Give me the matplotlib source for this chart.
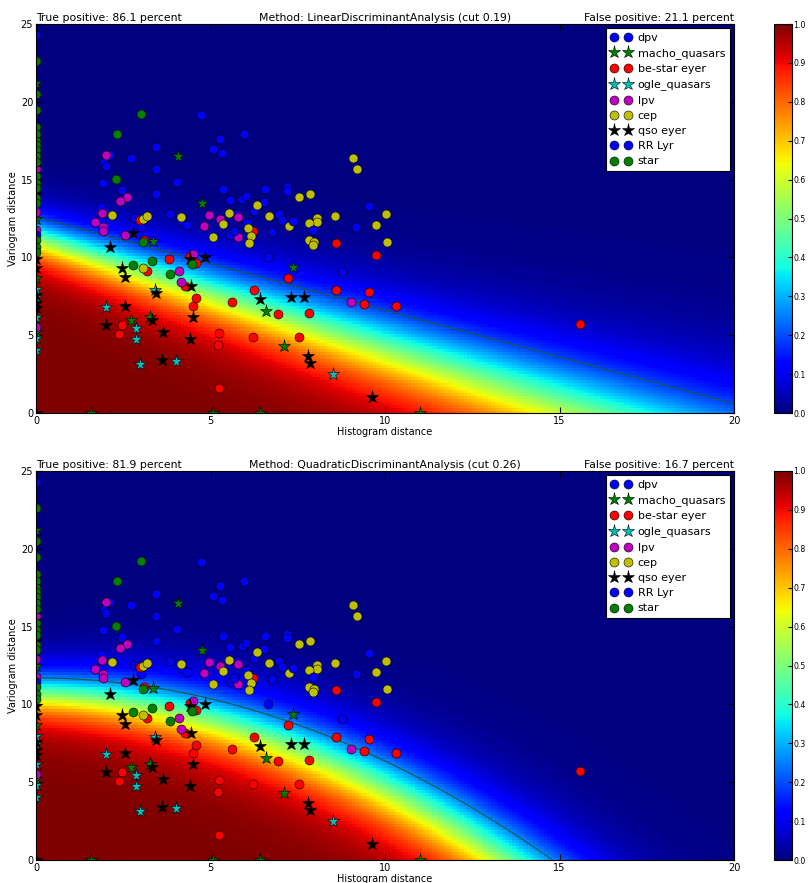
import numpy as np
import matplotlib
matplotlib.use('Agg')
import matplotlib.pyplot as plt

# ---------------- data ----------------
dpv_x = [4.74, 5.97, 5.26, 3.43, 5.08, 5.34, 2.11, 2.71, 1.94, 2.01, 3.43, 1.93, 4.05, 2.46,
         5.36, 6.55, 3.43, 5.57, 5.89, 6.01, 6.53, 6.95, 1.85, 1.85, 2.80, 2.96, 3.83, 4.16,
         4.33, 5.77, 6.26, 1.86, 3.02, 5.55, 6.05, 0.0]
dpv_y = [19.15, 17.95, 17.6, 17.1, 16.97, 16.7, 16.6, 16.37, 16.1, 15.9, 15.66, 14.8, 14.85, 14.3,
         14.4, 14.4, 14.05, 13.7, 13.77, 13.96, 13.56, 12.83, 13.26, 12.68, 12.55, 12.55, 12.77, 12.36,
         12.08, 12.81, 13.0, 12.34, 11.93, 11.44, 12.19, 24.3]
macho_x = [4.07, 4.75, 3.36, 7.37, 6.59, 2.71, 3.28, 7.11, 1.58, 5.06, 6.41, 11.0, 0.0, 0.0, 0.0, 0.0]
macho_y = [16.5, 13.47, 11.05, 9.4, 6.54, 5.96, 6.15, 4.33, 0.0, 0.0, 0.0, 0.0, 21.2, 12.5, 8.66, 5.23]
bestar_x = [2.99, 6.21, 3.10, 3.82, 4.42, 4.58, 3.17, 4.26, 4.59, 4.51, 5.61, 6.26, 6.93, 2.46, 2.38,
            5.25, 5.21, 6.23, 5.25, 8.61, 9.74, 7.23, 8.61, 9.53, 9.41, 10.31, 7.82, 7.54, 15.6]
bestar_y = [12.4, 11.7, 11.1, 9.9, 10.1, 9.62, 9.15, 8.18, 7.41, 6.86, 7.11, 7.9, 6.38, 5.63, 5.06,
            5.12, 4.37, 4.88, 1.59, 10.93, 10.13, 8.68, 7.9, 7.8, 7.03, 6.86, 6.43, 4.88, 5.7]
ogle_x = [3.40, 2.01, 2.86, 2.87, 2.99, 4.01, 8.52, 0.0, 0.0, 0.0, 0.0, 0.0]
ogle_y = [7.89, 6.79, 5.44, 4.74, 3.17, 3.34, 2.51, 8.0, 7.43, 6.19, 4.8, 4.05]
lpv_x = [2.01, 2.61, 2.40, 1.88, 4.95, 5.28, 5.80, 1.70, 1.93, 1.93, 4.80, 5.78, 2.56, 4.51, 4.10,
         4.15, 9.04, 0.0, 0.0, 0.0, 0.0]
lpv_y = [16.6, 13.9, 13.65, 12.85, 12.7, 12.49, 12.62, 12.25, 11.95, 11.7, 12.0, 11.33, 11.44, 10.2,
         9.13, 8.42, 7.11, 15.7, 12.9, 11.76, 5.55]
cep_x = [6.33, 2.18, 3.08, 3.17, 4.15, 5.52, 5.36, 6.69, 6.08, 6.16, 5.06, 6.09, 3.07, 9.09, 9.20,
         7.54, 7.84, 10.02, 8.58, 8.05, 8.05, 7.82, 7.24, 9.73, 7.81, 7.97, 7.93, 10.07]
cep_y = [13.39, 12.7, 12.5, 12.64, 12.58, 12.85, 12.17, 12.68, 11.9, 11.38, 11.33, 10.9, 9.32, 16.39,
         15.68, 13.9, 14.07, 12.81, 12.68, 12.53, 12.25, 12.21, 12.04, 12.06, 11.14, 11.01, 10.8, 10.97]
qso_x = [2.78, 2.11, 4.83, 4.40, 2.45, 2.55, 4.45, 3.45, 6.41, 2.55, 4.51, 3.32, 2.00, 3.64, 4.41,
         3.60, 7.31, 7.68, 7.80, 7.84, 9.63, 0.0, 0.0, 0.0, 0.0, 0.0, 0.0, 0.0]
qso_y = [11.59, 10.69, 10.0, 9.92, 9.34, 8.72, 8.18, 7.69, 7.33, 6.86, 6.15, 6.0, 5.66, 5.23, 4.78,
         3.43, 7.47, 7.47, 3.68, 3.23, 1.05, 14.1, 9.87, 9.3, 7.58, 7.05, 6.73, 0.0]
rrlyr_x = [6.76, 6.64, 7.18, 7.19, 9.55, 6.96, 7.04, 7.36, 9.18, 7.94, 5.67, 8.78, 0.0]
rrlyr_y = [11.61, 10.03, 14.55, 14.27, 13.28, 12.81, 12.4, 12.36, 11.97, 11.76, 11.7, 9.06, 11.44]
star_x = [3.02, 2.31, 2.30, 3.08, 4.46, 2.79, 3.33, 3.83] + [0.0] * 18
star_y = [19.2, 17.93, 15.04, 10.97, 9.58, 9.53, 9.77, 8.91,
          22.6, 20.5, 19.5, 18.4, 17.9, 17.5, 17.2, 16.9, 16.5, 16.15, 15.2, 14.76, 14.44,
          13.8, 13.5, 11.1, 10.7, 10.37]

series = [
    ("dpv", dpv_x, dpv_y, 'o', 'b'),
    ("macho_quasars", macho_x, macho_y, '*', 'g'),
    ("be-star eyer", bestar_x, bestar_y, 'o', 'r'),
    ("ogle_quasars", ogle_x, ogle_y, '*', 'c'),
    ("lpv", lpv_x, lpv_y, 'o', 'm'),
    ("cep", cep_x, cep_y, 'o', 'y'),
    ("qso eyer", qso_x, qso_y, '*', 'k'),
    ("RR Lyr", rrlyr_x, rrlyr_y, 'o', 'b'),
    ("star", star_x, star_y, 'o', 'g'),
]

panels = [
    dict(method="LinearDiscriminantAnalysis", cut=0.19, tp=86.1, fp=21.1),
    dict(method="QuadraticDiscriminantAnalysis", cut=0.26, tp=81.9, fp=16.7),
]

# classifier decision-surface parameters
lda_intercept, lda_slope, lda_k0, lda_c = 12.6, 0.6, 1.09, 0.079
qda_intercept, qda_xzero, qda_k0, qda_c = 11.7, 14.8, 1.05, 0.07

colors = {'b': (0, 0, 1), 'g': (0, 0.5, 0), 'r': (1, 0, 0), 'c': (0, 0.75, 0.75),
          'm': (0.75, 0, 0.75), 'y': (0.75, 0.75, 0), 'k': (0, 0, 0)}


def logit(p):
    return np.log(p / (1 - p))


def boundary(i, x):
    if i == 0:
        return lda_intercept - lda_slope * x
    return qda_intercept * (1 - (x / qda_xzero) ** 2)


def prob(i, X, Y):
    cut = panels[i]['cut']
    if i == 0:
        k = lda_k0 / (1 + lda_c * X)
    else:
        k = qda_k0 / (1 + qda_c * X)
    z = logit(cut) + k * (boundary(i, X) - Y)
    return 1 / (1 + np.exp(-z))


fig = plt.figure(figsize=(8.12, 8.83), dpi=100)
W, H = 812.0, 883.0
gx = np.arange(0, 20.05, 0.1)
gy = np.arange(0, 25.05, 0.2)
GX, GY = np.meshgrid(gx, gy)

tops = [24, 471]
for i, pan in enumerate(panels):
    top = tops[i]
    ax = fig.add_axes([36 / W, 1 - (top + 389) / H, 698 / W, 389 / H])
    P = prob(i, GX, GY)
    mesh = ax.pcolormesh(gx, gy, P, cmap='jet', vmin=0, vmax=1, shading='nearest')
    xl = np.linspace(0, 20, 400)
    ax.plot(xl, boundary(i, xl), color=(0.1, 0.35, 0.25), lw=0.8)
    for name, xs, ys, m, c in series:
        ms = 9.5 if m == '*' else 6.5
        ax.plot(xs, ys, m, color=colors[c], markersize=ms, markeredgecolor='k',
                markeredgewidth=0.4, label=name)
    ax.set_xlim(0, 20)
    ax.set_ylim(0, 25)
    ax.set_xticks(np.arange(0, 21, 5))
    ax.set_yticks(np.arange(0, 26, 5))
    ax.tick_params(direction='in', top=True, right=True, labelsize=7, length=4, pad=2)
    ax.set_xlabel("Histogram distance", fontsize=7, labelpad=1)
    ax.set_ylabel("Variogram distance", fontsize=7, labelpad=2)
    ax.set_title("True positive: %.1f percent" % pan['tp'], loc='left', fontsize=7.8, pad=2)
    ax.set_title("Method: %s (cut %.2f)" % (pan['method'], pan['cut']), loc='center', fontsize=7.8, pad=2)
    ax.set_title("False positive: %.1f percent" % pan['fp'], loc='right', fontsize=7.8, pad=2)
    leg = ax.legend(loc='upper right', numpoints=2, fontsize=8, fancybox=False, framealpha=1,
                    edgecolor='k', borderaxespad=0.35, handletextpad=0.6, labelspacing=0.47,
                    borderpad=0.45, handlelength=1.8)
    leg.get_frame().set_linewidth(0.8)
    cax = fig.add_axes([774 / W, 1 - (top + 389) / H, 18 / W, 389 / H])
    cb = fig.colorbar(mesh, cax=cax, ticks=np.arange(0, 1.01, 0.1))
    cb.ax.set_yticklabels(["%.1f" % t for t in np.arange(0, 1.01, 0.1)])
    cb.ax.tick_params(labelsize=5.6, direction='in', length=3, pad=1)

fig.savefig("out.png", dpi=100)
